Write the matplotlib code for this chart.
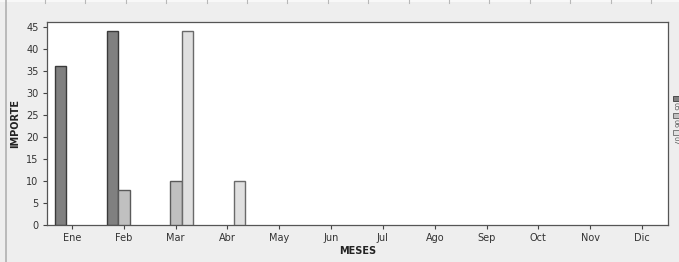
import matplotlib
matplotlib.use("Agg")
import matplotlib.pyplot as plt
from matplotlib.patches import Rectangle
from matplotlib.lines import Line2D
import numpy as np

months = ["Ene", "Feb", "Mar", "Abr", "May", "Jun", "Jul", "Ago", "Sep", "Oct", "Nov", "Dic"]
series_names = ["05", "06", "07"]
serie_a = [36, 44, 0, 0, 0, 0, 0, 0, 0, 0, 0, 0]
serie_b = [0, 8, 10, 0, 0, 0, 0, 0, 0, 0, 0, 0]
serie_c = [0, 0, 44, 10, 0, 0, 0, 0, 0, 0, 0, 0]
yticks = [0, 5, 10, 15, 20, 25, 30, 35, 40, 45]

colors = ["#808080", "#c0c0c0", "#e0e0e0"]
edges = ["#3a3a3a", "#5a5a5a", "#6a6a6a"]

W, H = 679, 262
fig = plt.figure(figsize=(W / 100, H / 100), dpi=100, facecolor="#eeeeee")
left, right, top, bottom = 47, 668, 22, 225
ax = fig.add_axes([left / W, 1 - bottom / H, (right - left) / W, (bottom - top) / H])
ax.set_facecolor("white")

x = np.arange(len(months))
width = 0.222
offsets = [-0.215, 0.01, 0.235]
for vals, off, c, e in zip([serie_a, serie_b, serie_c], offsets, colors, edges):
    v = np.array(vals, dtype=float)
    mask = v > 0
    ax.bar(x[mask] + off, v[mask], width=width, color=c, edgecolor=e, linewidth=1.0, zorder=3)

ax.set_xlim(-0.48, 11.5)
ax.set_ylim(0, 46.1)
ax.set_xticks(x)
ax.set_xticklabels(months, fontsize=7, color="#333333")
ax.set_yticks(yticks)
ax.set_yticklabels([str(t) for t in yticks], fontsize=7, color="#333333")
ax.tick_params(axis="both", direction="out", length=3, width=0.8, color="#444444", pad=3)
for s in ax.spines.values():
    s.set_color("#555555")
    s.set_linewidth(0.9)

ax.set_xlabel("MESES", fontsize=7, fontweight="bold", color="#222222", labelpad=2)
ax.set_ylabel("IMPORTE", fontsize=7, fontweight="bold", color="#222222", labelpad=4)

# decorations: left border line and top strip
fig.add_artist(Line2D([5.5 / W, 5.5 / W], [0, 1], transform=fig.transFigure, color="#b0b0b0", lw=1.2))
fig.add_artist(Rectangle((0, 1 - 2 / H), 1, 2 / H, transform=fig.transFigure,
                         facecolor="#f8f8f8", edgecolor="none"))
for xs in np.arange(45, W, 40.4):
    fig.add_artist(Line2D([xs / W, xs / W], [1 - 3 / H, 1], transform=fig.transFigure,
                          color="#b8b8b8", lw=0.8))

# legend at right edge
y0 = 96
for i, (name, c, e) in enumerate(zip(series_names, colors, edges)):
    yy = y0 + i * 17
    fig.add_artist(Rectangle((672.5 / W, 1 - (yy + 5) / H), 6 / W, 5 / H, transform=fig.transFigure,
                             facecolor=c, edgecolor=e, lw=0.6))
    fig.text(672 / W, 1 - (yy + 6) / H, name, rotation=-90, fontsize=5, color="#555555",
             ha="left", va="top")

fig.savefig("out.png", dpi=100, facecolor=fig.get_facecolor())
